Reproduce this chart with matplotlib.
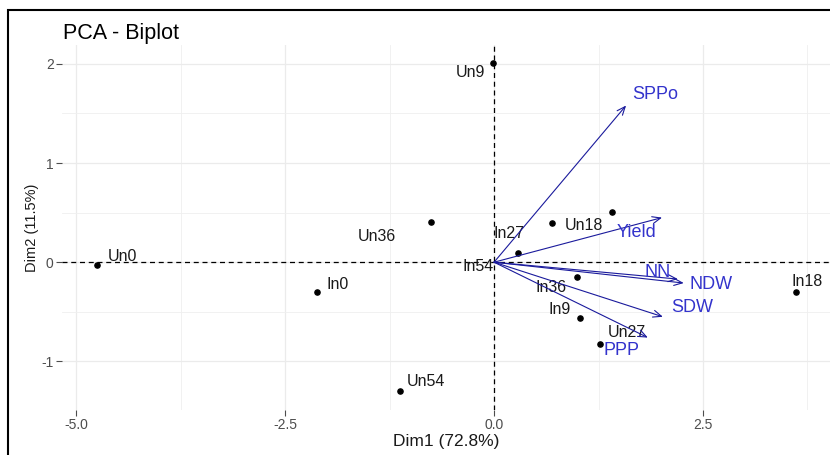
import matplotlib.pyplot as plt
from matplotlib.patches import Rectangle

# Individuals (PCA scores)
samples = ['Un0', 'In0', 'Un54', 'Un36', 'Un9', 'In54', 'In27', 'Un18', 'In36', 'In9', 'Un27', 'In18']
dim1 = [-4.75, -2.12, -1.12, -0.75, -0.01, 0.29, 0.69, 1.41, 0.99, 1.03, 1.27, 3.61]
dim2 = [-0.03, -0.30, -1.30, 0.41, 2.01, 0.09, 0.40, 0.51, -0.15, -0.56, -0.82, -0.30]

# Variables (loadings, scaled)
variables = ['SPPo', 'Yield', 'NN', 'NDW', 'SDW', 'PPP']
var_dim1 = [1.58, 2.01, 2.20, 2.27, 2.02, 1.84]
var_dim2 = [1.58, 0.45, -0.17, -0.21, -0.55, -0.76]

# label offsets in pixels (layout only, as placed by the repel step in the original)
sample_offsets = [(25, 9), (21, 7), (25, 10), (-55, -15), (-23, -10), (-40, -13),
                  (-43, -11), (-28, -14), (-26, -10), (-21, 8), (27, 11), (11, 10)]
var_offsets = [(29, 11), (-26, -15), (-20, 7), (27, -1), (29, 9), (-26, -13)]

plt.rcParams['font.family'] = ['Liberation Sans', 'DejaVu Sans']
plt.rcParams['axes.unicode_minus'] = False

fig = plt.figure(figsize=(8.3, 4.55), dpi=100)
ax = fig.add_axes([62 / 830, 1 - 410 / 455, 1 - 62 / 830, (410 - 45) / 455])

# outer frame of the original figure (cropped on right/bottom)
fig.patches.append(Rectangle((8 / 830, -0.05), 1.2, 1 - 10 / 455 + 0.05, transform=fig.transFigure,
                             fill=False, edgecolor='black', linewidth=1.5))

ax.set_xlim(-5.17, 4.02)
ax.set_ylim(-1.49, 2.19)
ax.set_xticks([-5.0, -2.5, 0.0, 2.5])
ax.set_xticklabels(['-5.0', '-2.5', '0.0', '2.5'])
ax.set_yticks([-1, 0, 1, 2])
ax.set_xticks([-3.75, -1.25, 1.25, 3.75], minor=True)
ax.set_yticks([-0.5, 0.5, 1.5], minor=True)
ax.grid(which='major', color='#EBEBEB', linewidth=0.9)
ax.grid(which='minor', color='#EFEFEF', linewidth=0.6)
ax.set_axisbelow(True)
for s in ax.spines.values():
    s.set_visible(False)
ax.tick_params(which='major', length=4, width=0.8, color='#4D4D4D', labelcolor='#4D4D4D', labelsize=10, pad=2)
ax.tick_params(which='minor', length=0)

ax.axhline(0, color='black', linestyle=(0, (4, 3)), linewidth=0.9, zorder=1)
ax.axvline(0, color='black', linestyle=(0, (4, 3)), linewidth=0.9, zorder=1)

ax.scatter(dim1, dim2, s=14, color='black', zorder=3)
for name, x, y, off in zip(samples, dim1, dim2, sample_offsets):
    ax.annotate(name, (x, y), xytext=off, textcoords='offset pixels',
                ha='center', va='center', fontsize=11.5, color='#1A1A1A')

for name, x, y, off in zip(variables, var_dim1, var_dim2, var_offsets):
    ax.annotate('', xy=(x, y), xytext=(0, 0),
                arrowprops=dict(arrowstyle='->,head_length=0.6,head_width=0.25',
                                color='#1A1A9C', lw=0.8, shrinkA=0, shrinkB=0))
    ax.annotate(name, (x, y), xytext=off, textcoords='offset pixels',
                ha='center', va='center', fontsize=13, color='#3333CC')

ax.set_xlabel('Dim1 (72.8%)', fontsize=12.5, color='#1A1A1A', labelpad=1)
ax.set_ylabel('Dim2 (11.5%)', fontsize=10.5, color='#1A1A1A', labelpad=2)
fig.text(63 / 830, 1 - 33 / 455, 'PCA - Biplot', fontsize=15.5, color='black', ha='left', va='center')

fig.savefig('out.png', dpi=100)
